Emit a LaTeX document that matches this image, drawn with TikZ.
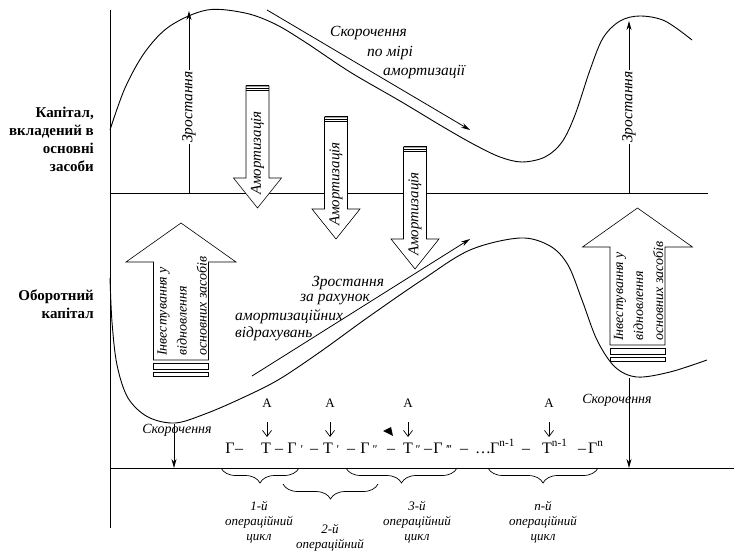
\documentclass[tikz,border=0pt]{standalone}
\usepackage{fontspec}
\setmainfont{Liberation Serif}[BoldFont={Liberation Serif Bold}, ItalicFont={Liberation Serif Italic}]
\newfontfamily\tnr{Liberation Serif}[BoldFont={Liberation Serif Bold}, ItalicFont={Liberation Serif Italic}]
\usetikzlibrary{arrows.meta,decorations.pathreplacing}

\tikzset{
  axisline/.style={line width=0.8pt},
  curveline/.style={line width=0.9pt},
  lbl/.style={font=\tnr\itshape\fontsize{15.5}{17}\selectfont, inner sep=1pt},
  lblsmall/.style={font=\tnr\itshape\fontsize{14}{16}\selectfont, inner sep=1pt},
  sidelabel/.style={font=\tnr\bfseries\fontsize{15}{18}\selectfont, align=right, anchor=east, inner sep=0pt},
  cyclelabel/.style={font=\tnr\itshape\fontsize{13}{15}\selectfont, align=center, inner sep=0pt},
  tok/.style={font=\tnr\fontsize{16}{18}\selectfont, inner sep=0pt, anchor=base},
  tokw/.style={font=\tnr\fontsize{16}{18}\selectfont, inner sep=0pt, anchor=base west},
  primetok/.style={font=\tnr\fontsize{12}{14}\selectfont, inner sep=0pt, anchor=base},
  amark/.style={font=\tnr\fontsize{13}{14}\selectfont, inner sep=0pt},
  bigarrow/.style={line width=0.8pt, -{Stealth[length=9pt,width=5pt]}},
  smallarrow/.style={line width=0.7pt, -{Straight Barb[length=6pt,width=9pt]}},
  blockarrow/.style={draw, fill=white, line width=0.6pt},
  cyclebrace/.style={decorate, decoration={brace, mirror, amplitude=15pt}, line width=0.7pt},
  % downward block arrow with striped top
  amort/.pic={
    \draw[blockarrow] (-11.5,0) -- (-11.5,92) -- (-24,92) -- (0,122) -- (24,92) -- (11.5,92) -- (11.5,0) -- cycle;
    \draw[line width=1pt] (-11.5,0) -- (11.5,0) (-11.5,2.4) -- (11.5,2.4) (-11.5,4.8) -- (11.5,4.8);
    \node[lbl, rotate=90, font=\tnr\itshape\fontsize{15}{17}\selectfont] (-txt) at (0,67) {Амортизація};
  },
  % upward block arrow with two plates under the shaft
  invest/.pic={
    \draw[blockarrow] (-27.5,137) -- (-27.5,39) -- (-55,39) -- (0,0) -- (55,39) -- (27.5,39) -- (27.5,137) -- cycle;
    \draw[line width=0.6pt] (-27.5,140) rectangle (27.5,146);
    \draw[line width=0.6pt] (-27.5,149) rectangle (27.5,153);
    \node[lbl, rotate=90, anchor=west, align=left, font=\tnr\itshape\fontsize{14}{20}\selectfont] (-txt) at (1,134)
      {Інвестування у\\відновлення\\основних засобів};
  }
}

\begin{document}
\begin{tikzpicture}[x=1pt, y=-1pt]
\useasboundingbox (0,0) rectangle (734,556);

% axes
\coordinate (vtop) at (110,10);
\coordinate (vbot) at (110,528);
\coordinate (uleft) at (110,193);
\coordinate (uright) at (708,193);
\coordinate (lleft) at (110,468);
\coordinate (lright) at (734,468);
\draw[axisline] (vtop) -- (vbot);
\draw[axisline] (uleft) -- (uright);
\draw[axisline] (lleft) -- (lright);

% fixed capital curve
\draw[curveline] plot[smooth, tension=0.55] coordinates {
  (110,130) (125,88) (145,52) (170,26) (207,10) (245,13) (275,24) (305,42)
  (350,72) (400,101) (445,128) (475,145) (500,157) (522,162) (545,157)
  (562,142) (575,115) (590,70) (603,38) (620,21) (640,16) (665,21) (692,40)};

% working capital curve
\draw[curveline] plot[smooth, tension=0.55] coordinates {
  (110,278) (112,322) (117,365) (128,398) (148,417) (175,423) (205,414)
  (240,399) (278,380) (320,352) (367,318) (422,280) (470,250) (520,238)
  (550,246) (568,265) (582,300) (597,340) (615,367) (637,377) (670,372) (707,360)};

% side labels
\node[sidelabel] (fixed) at (94,139.5) {Капітал,\\вкладений в\\основні\\засоби};
\node[sidelabel] (working) at (94,304) {Оборотний\\капітал};

% growth arrows in the upper half
\coordinate (g1b) at (189,193);
\coordinate (g1t) at (189,11);
\draw[bigarrow] (g1b) -- (g1t);
\node[lbl, rotate=90, fill=white] (g1) at (189,107) {Зростання};
\coordinate (g2b) at (629,193);
\coordinate (g2t) at (629,21);
\draw[bigarrow] (g2b) -- (g2t);
\node[lbl, rotate=90, fill=white] (g2) at (629,107) {Зростання};

% reduction by depreciation
\coordinate (s1) at (267,10);
\coordinate (s2) at (470,130);
\draw[bigarrow] (s1) -- (s2);
\node[lbl, anchor=west] (sk1) at (329,33) {Скорочення};
\node[lbl, anchor=west] (sk2) at (366,53) {по мірі};
\node[lbl, anchor=west] (sk3) at (382,72) {амортизації};

% growth from depreciation charges
\coordinate (r1) at (252,376);
\coordinate (r2) at (470,239);
\draw[bigarrow] (r1) -- (r2);
\node[lbl, anchor=west] (zr1) at (311,283) {Зростання};
\node[lbl, anchor=west] (zr2) at (299,300) {за рахунок};
\node[lbl, anchor=west] (zr3) at (234,317) {амортизаційних};
\node[lbl, anchor=west] (zr4) at (234,334) {відрахувань};

% depreciation block arrows
\pic (am1) at (257.5,86) {amort};
\pic (am2) at (336,117) {amort};
\pic (am3) at (415,147) {amort};

% investment block arrows
\pic (inv1) at (181,223) {invest};
\pic (inv2) at (637.5,208) {invest};

% reductions of working capital
\coordinate (d1t) at (174,424);
\coordinate (d1b) at (174,468);
\draw[bigarrow] (d1t) -- (d1b);
\node[lblsmall] (dl1) at (177,430) {Скорочення};
\coordinate (d2t) at (629,378);
\coordinate (d2b) at (629,468);
\draw[bigarrow] (d2t) -- (d2b);
\node[lblsmall] (dl2) at (617,400) {Скорочення};

% circulation formula
\node[tok] (f1) at (230,453) {Г};
\node[tok] (f2) at (239,453) {–};
\node[tok] (f3) at (266,453) {Т};
\node[tok] (f4) at (279,453) {–};
\node[tok] (f5) at (292,453) {Г};
\node[primetok] (f6) at (302,453) {′};
\node[tok] (f7) at (314,453) {–};
\node[tok] (f8) at (328,453) {Т};
\node[primetok] (f9) at (338,453) {′};
\node[tok] (f10) at (351,453) {–};
\node[tok] (f11) at (365,453) {Г};
\node[primetok] (f12) at (375,453) {″};
\node[tok] (f13) at (391,453) {–};
\node[tok] (f14) at (408,453) {Т};
\node[primetok] (f15) at (418,453) {″};
\node[tok] (f16) at (428,453) {–};
\node[tok] (f17) at (438,453) {Г};
\node[primetok] (f18) at (449,453) {′\kern-1pt′\kern-1pt′};
\node[tok] (f19) at (464,453) {–};
\node[tok] (f20) at (483,453) {…};
\node[tokw] (f21) at (490,453) {Г\textsuperscript{n-1}};
\node[tok] (f22) at (526,453) {–};
\node[tokw] (f23) at (542,453) {Т\textsuperscript{n-1}};
\node[tok] (f24) at (582,453) {–};
\node[tokw] (f25) at (588,453) {Г\textsuperscript{n}};

% depreciation marks over the formula
\node[amark] (a1) at (267,403) {А};
\node[amark] (a2) at (330,403) {А};
\node[amark] (a3) at (408,403) {А};
\node[amark] (a4) at (549,403) {А};
\foreach \x [count=\i] in {267,330,408,549} {
  \coordinate (at\i) at (\x,422);
  \coordinate (ab\i) at (\x,437);
  \draw[smallarrow] (at\i) -- (ab\i);
}
\fill (383,431) -- (391,427) -- (393,436) -- cycle;

% operating cycles
\coordinate (b1l) at (221,468);
\coordinate (b1r) at (299,468);
\draw[cyclebrace] (b1l) -- (b1r);
\coordinate (b2l) at (283,484);
\coordinate (b2r) at (378,484);
\draw[cyclebrace] (b2l) -- (b2r);
\coordinate (b3l) at (346,468);
\coordinate (b3r) at (457,468);
\draw[cyclebrace] (b3l) -- (b3r);
\coordinate (b4l) at (488,468);
\coordinate (b4r) at (598,468);
\draw[cyclebrace] (b4l) -- (b4r);

\node[cyclelabel] (c1) at (259,522) {1-й\\операційний\\цикл};
\node[cyclelabel] (c2) at (330,545) {2-й\\операційний\\цикл};
\node[cyclelabel] (c3) at (417,522) {3-й\\операційний\\цикл};
\node[cyclelabel] (c4) at (543,522) {n-й\\операційний\\цикл};
\end{tikzpicture}
\end{document}
